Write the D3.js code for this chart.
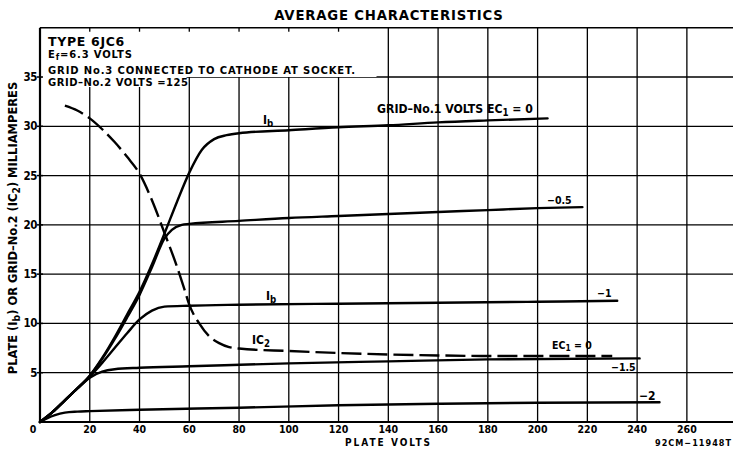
<!DOCTYPE html>
<html><head><meta charset="utf-8">
<script src="https://cdn.jsdelivr.net/npm/d3@7/dist/d3.min.js"></script>
<style>
body{margin:0;background:#fff;}
text{font-family:"DejaVu Sans Condensed","DejaVu Sans",sans-serif;font-weight:bold;fill:#000;}
text.wide{font-family:"DejaVu Sans",sans-serif;}
</style></head>
<body><svg id="c" width="733" height="449"></svg>
<script>
// ---- data (plate volts, milliamperes) ----
const xTicks = [0,20,40,60,80,100,120,140,160,180,200,220,240,260];
const yTicks = [5,10,15,20,25,30,35];
const ib_0 = [[0,0],[5,1],[10,2.2],[15,3.4],[20,4.7],[25,6.5],[30,8.6],[35,10.9],[40,13.2],[45,16],[50,19.1],[55,22.3],[60,25.3],[65,27.6],[70,28.7],[75,29.1],[80,29.3],[100,29.6],[120,29.9],[140,30.1],[160,30.4],[180,30.6],[204,30.8]];
const ib_m05 = [[0,0],[5,1],[10,2.2],[15,3.4],[20,4.7],[25,6.4],[30,8.4],[35,10.6],[40,12.9],[45,15.7],[50,18.6],[53,19.5],[57,20],[60,20.1],[80,20.4],[100,20.7],[120,20.9],[140,21.1],[160,21.3],[180,21.5],[200,21.7],[218,21.8]];
const ib_m1 = [[0,0],[5,1],[10,2.2],[15,3.4],[20,4.6],[25,6],[30,7.5],[35,9],[40,10.4],[45,11.3],[50,11.7],[60,11.8],[80,11.9],[120,12],[160,12.1],[200,12.2],[232,12.3]];
const ib_m15 = [[0,0],[5,1],[10,2.2],[15,3.4],[20,4.5],[25,5.1],[30,5.35],[40,5.5],[60,5.65],[100,5.95],[140,6.15],[180,6.35],[241,6.45]];
const ib_m2 = [[0,0],[3,0.4],[6,0.7],[10,0.95],[15,1.05],[20,1.1],[40,1.25],[80,1.45],[120,1.7],[160,1.85],[200,1.95],[249,2.0]];
const ic2_0 = [[10,32.1],[15,31.6],[20,30.8],[25,29.7],[30,28.4],[35,26.9],[40,25.2],[45,22.5],[50,19.2],[55,15.8],[58,13.5],[60,11.9],[64,10],[68,8.7],[72,8],[76,7.6],[80,7.45],[100,7.2],[120,7.0],[140,6.85],[160,6.75],[180,6.7],[200,6.7],[230,6.7]];

const svg = d3.select("#c");
const x = d3.scaleLinear().domain([0,280]).range([40, 40+280*2.488]);
const y = d3.scaleLinear().domain([0,40]).range([422, 422-40*9.857]);

// grid
const g = svg.append("g");
g.selectAll(".vg").data(d3.range(20,281,20)).enter().append("line")
 .attr("x1",d=>x(d)).attr("x2",d=>x(d)).attr("y1",y(0)).attr("y2",y(40))
 .attr("stroke","#000").attr("stroke-width",1.3);
g.selectAll(".hg").data(d3.range(5,41,5)).enter().append("line")
 .attr("x1",x(0)).attr("x2",733).attr("y1",d=>y(d)).attr("y2",d=>y(d))
 .attr("stroke","#000").attr("stroke-width",d=>d===40?1.6:1.3);

// white panel behind the notes
svg.append("rect").attr("x",41.5).attr("y",y(40)+4).attr("width",335).attr("height",y(35)-y(40)-4).attr("fill","#fff");
svg.append("rect").attr("x",41.5).attr("y",y(35)-2).attr("width",145).attr("height",12).attr("fill","#fff");

// axes frame
svg.append("line").attr("x1",x(0)).attr("x2",x(0)).attr("y1",y(0)+1).attr("y2",y(40)).attr("stroke","#000").attr("stroke-width",2.2);
svg.append("line").attr("x1",x(0)-1).attr("x2",733).attr("y1",y(0)).attr("y2",y(0)).attr("stroke","#000").attr("stroke-width",2.2);
svg.selectAll(".yt").data(yTicks).enter().append("line")
 .attr("x1",x(0)-3).attr("x2",x(0)+3).attr("y1",d=>y(d)).attr("y2",d=>y(d)).attr("stroke","#000").attr("stroke-width",1.5);

// tick labels
svg.selectAll(".xl").data(xTicks).enter().append("text")
 .attr("x",d=>d===0?x(0)-7:x(d)).attr("y",y(0)+10.5).attr("text-anchor","middle")
 .attr("font-size",10.5).text(d=>d);
svg.selectAll(".yl").data(yTicks).enter().append("text")
 .attr("x",x(0)-3).attr("y",d=>y(d)+4).attr("text-anchor","end")
 .attr("font-size",11.5).attr("letter-spacing",-0.5).text(d=>d);

// curves
const line = d3.line().x(d=>x(d[0])).y(d=>y(d[1])).curve(d3.curveMonotoneX);
[ib_0,ib_m05,ib_m1,ib_m15,ib_m2].forEach(s=>{
  svg.append("path").attr("d",line(s)).attr("fill","none").attr("stroke","#000").attr("stroke-width",2.4).attr("stroke-linecap","round");
});
svg.append("path").attr("d",line(ic2_0)).attr("fill","none").attr("stroke","#000").attr("stroke-width",2.4).attr("stroke-dasharray","20,6");

// helper for labels with subscripts
function lab(px,py,parts,size,anchor){
  const t = svg.append("text").attr("x",px).attr("y",py).attr("font-size",size).attr("text-anchor",anchor||"start");
  parts.forEach(p=>{
    const s = t.append("tspan").text(p[0]);
    if(p[1]==="sub") s.attr("baseline-shift","-25%").attr("font-size",size*0.8);
  });
  return t;
}
// scale font so text spans the target width
function fit(t,target){
  const len = t.node().getComputedTextLength();
  const fs = +t.attr("font-size");
  const nf = fs*target/len;
  t.attr("font-size",nf);
  t.selectAll("tspan").each(function(){ const s=d3.select(this); if(s.attr("font-size")) s.attr("font-size",nf*0.8); });
  return t;
}
// keep font size, stretch by letter spacing to span the target width
function spread(t,target){
  const len = t.node().getComputedTextLength();
  const n = t.text().length;
  t.attr("letter-spacing",(target-len)/Math.max(1,n-1));
  return t;
}

// title and notes
fit(svg.append("text").attr("x",389).attr("y",20).attr("text-anchor","middle").attr("font-size",13).attr("letter-spacing",0.8).text("AVERAGE CHARACTERISTICS"),232);
spread(lab(48,45.5,[["TYPE  6JC6"]],12.5).classed("wide",true),77);
spread(lab(48,58,[["E"],["f","sub"],["=6.3 VOLTS"]],10).classed("wide",true),84);
spread(lab(48,73.5,[["GRID No.3 CONNECTED TO CATHODE AT SOCKET."]],10).classed("wide",true),307);
spread(lab(48,85.5,[["GRID\u2013No.2 VOLTS =125"]],10).classed("wide",true),140);

// curve labels
lab(263,124,[["I"],["b","sub"]],12);
fit(lab(377,113,[["GRID\u2013No.1 VOLTS  E"],["C"],["1","sub"],[" = 0"]],10.5),156);
lab(547,204,[["\u22120.5"]],10.5);
lab(597,297,[["\u22121"]],10.5);
lab(266,300,[["I"],["b","sub"]],12);
lab(252,344,[["I"],["C"],["2","sub"]],12);
lab(552,349,[["EC"],["1","sub"],[" = 0"]],10.5);
lab(611,371,[["\u22121.5"]],10.5);
lab(639,400,[["\u22122"]],12);

// axis titles
spread(svg.append("text").attr("x",345).attr("y",446).attr("font-size",10).text("PLATE VOLTS"),85);
spread(svg.append("text").attr("x",655).attr("y",445.5).attr("font-size",9).text("92CM\u221211948T"),76);
const yl = svg.append("text").attr("transform","translate(17,228) rotate(-90)").attr("text-anchor","middle").attr("font-size",11);
yl.append("tspan").text("PLATE (I");
yl.append("tspan").text("b").attr("baseline-shift","-25%").attr("font-size",9);
yl.append("tspan").text(") OR GRID\u2013No.2 (I");
yl.append("tspan").text("C");
yl.append("tspan").text("2").attr("baseline-shift","-25%").attr("font-size",9);
yl.append("tspan").text(") MILLIAMPERES");
fit(yl,293);
</script></body></html>
